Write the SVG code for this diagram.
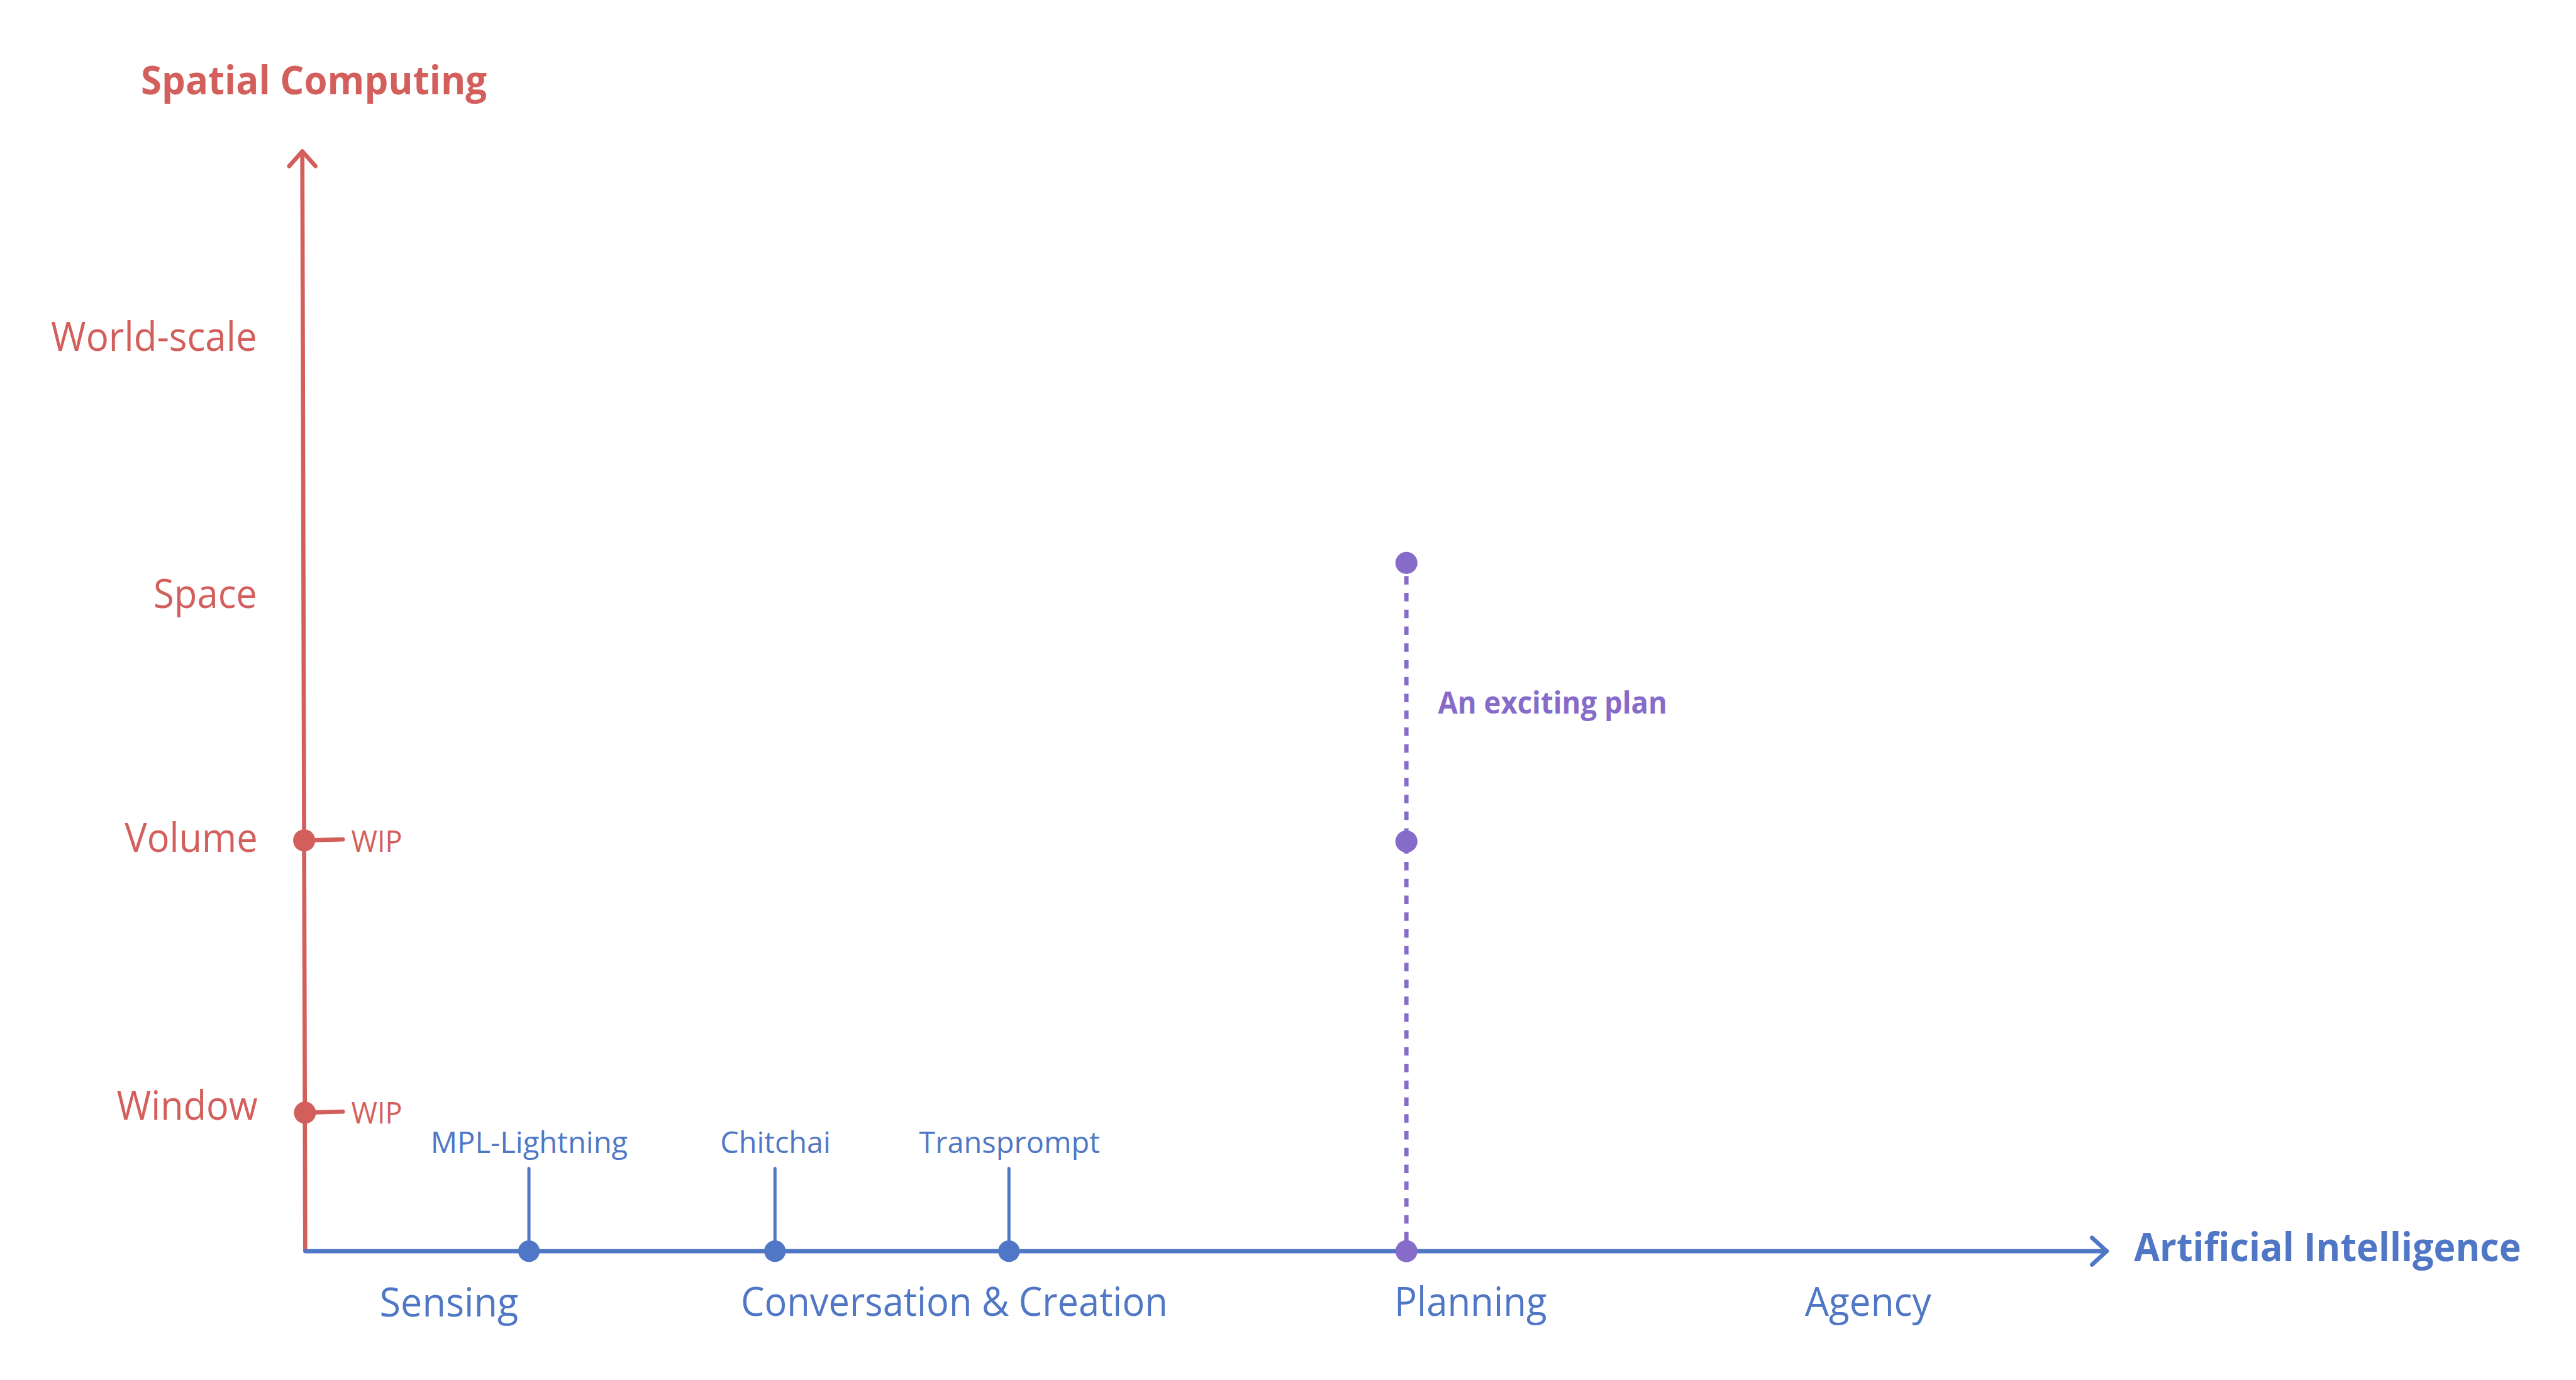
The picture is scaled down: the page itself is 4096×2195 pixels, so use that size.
<svg xmlns="http://www.w3.org/2000/svg" width="4096" height="2195" viewBox="0 0 4096 2195">
<style>
  .r { fill: #D35F5C; }
  .b { fill: #5077C5; }
  .p { fill: #876BC9; }
  text { font-family: "Open Sans", "Noto Sans", "Liberation Sans", sans-serif; }
  .lg { font-size: 76px; }
  .sm { font-size: 57px; }
  .bold { font-weight: 700; }
  .axr { stroke: #D35F5C; stroke-width: 8; fill: none; stroke-linecap: round; stroke-linejoin: round; }
  .axb { stroke: #5077C5; stroke-width: 8; fill: none; stroke-linecap: round; stroke-linejoin: round; }
  .stem { stroke: #5077C5; stroke-width: 6; fill: none; stroke-linecap: round; }
  .dash { stroke: #876BC9; stroke-width: 8; fill: none; stroke-dasharray: 16 16; }
</style>
<rect width="4096" height="2195" fill="#ffffff"/>
<g transform="scale(0.836)">
  <g id="connectors">
    <path class="axr" d="M580.5,2380 L575,288"/>
    <polyline class="axr" points="550,316 575,288 600,316"/>
    <path class="axb" d="M581,2380.5 L4007,2380.5"/>
    <polyline class="axb" points="3979,2355 4007,2380.5 3979,2406"/>
    <path class="axr" d="M578.5,1599 L652,1597"/>
    <path class="axr" d="M580,2117 L652,2115"/>
    <path class="stem" d="M1006,2223 L1006,2380"/>
    <path class="stem" d="M1474,2223 L1474,2380"/>
    <path class="stem" d="M1919,2223 L1919,2380"/>
    <path class="dash" d="M2675,1096 L2675,2380"/>
  </g>
  <g id="y-axis-title"><text class="r lg bold" x="268" y="179" textLength="658" lengthAdjust="spacingAndGlyphs">Spatial Computing</text></g>
  <g id="x-axis-title"><text class="b lg bold" x="4059" y="2400" textLength="736" lengthAdjust="spacingAndGlyphs">Artificial Intelligence</text></g>
  <g id="y-world-scale"><text class="r lg" x="97" y="668" textLength="392" lengthAdjust="spacingAndGlyphs">World-scale</text></g>
  <g id="y-space"><text class="r lg" x="292" y="1157" textLength="197" lengthAdjust="spacingAndGlyphs">Space</text></g>
  <g id="y-volume"><text class="r lg" x="237" y="1621" textLength="253" lengthAdjust="spacingAndGlyphs">Volume</text></g>
  <g id="y-window"><text class="r lg" x="222" y="2130" textLength="268" lengthAdjust="spacingAndGlyphs">Window</text></g>
  <g id="volume-wip">
    <circle class="r" cx="578.5" cy="1599" r="21"/>
    <text class="r sm" x="668" y="1621" textLength="97" lengthAdjust="spacingAndGlyphs">WIP</text>
  </g>
  <g id="window-wip">
    <circle class="r" cx="580" cy="2117" r="21"/>
    <text class="r sm" x="668" y="2137" textLength="97" lengthAdjust="spacingAndGlyphs">WIP</text>
  </g>
  <g id="mpl-lightning">
    <circle class="b" cx="1006" cy="2380.5" r="20.5"/>
    <text class="b sm" x="819" y="2194" textLength="375" lengthAdjust="spacingAndGlyphs">MPL-Lightning</text>
  </g>
  <g id="chitchai">
    <circle class="b" cx="1474" cy="2380.5" r="20.5"/>
    <text class="b sm" x="1370" y="2194" textLength="210" lengthAdjust="spacingAndGlyphs">Chitchai</text>
  </g>
  <g id="transprompt">
    <circle class="b" cx="1919" cy="2380.5" r="20.5"/>
    <text class="b sm" x="1748" y="2194" textLength="344" lengthAdjust="spacingAndGlyphs">Transprompt</text>
  </g>
  <g id="plan">
    <circle class="p" cx="2675" cy="1071" r="21"/>
    <circle class="p" cx="2675" cy="1601" r="21"/>
    <circle class="p" cx="2675" cy="2380.5" r="21"/>
    <text class="p sm bold" x="2735" y="1358" textLength="436" lengthAdjust="spacingAndGlyphs">An exciting plan</text>
  </g>
  <g id="x-sensing"><text class="b lg" x="722" y="2505" textLength="264" lengthAdjust="spacingAndGlyphs">Sensing</text></g>
  <g id="x-conversation"><text class="b lg" x="1409" y="2504" textLength="812" lengthAdjust="spacingAndGlyphs">Conversation &amp; Creation</text></g>
  <g id="x-planning"><text class="b lg" x="2652" y="2504" textLength="290" lengthAdjust="spacingAndGlyphs">Planning</text></g>
  <g id="x-agency"><text class="b lg" x="3433" y="2504" textLength="240" lengthAdjust="spacingAndGlyphs">Agency</text></g>
</g>
</svg>
